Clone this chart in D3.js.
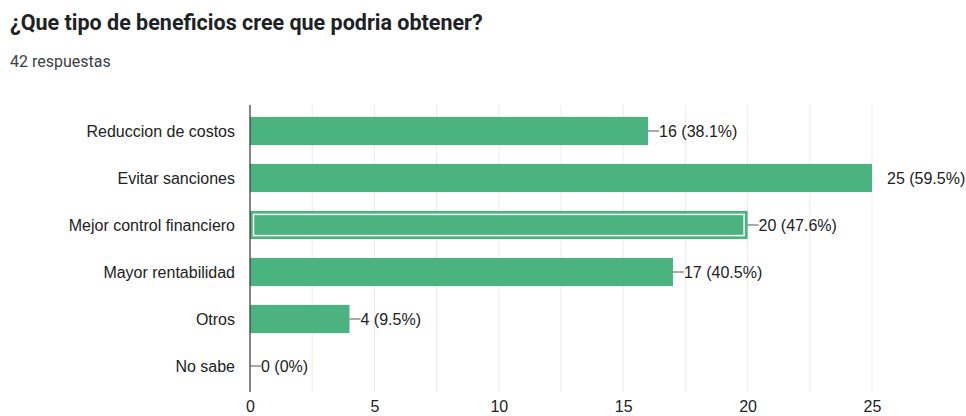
<!DOCTYPE html>
<html>
<head>
<meta charset="utf-8">
<script src="https://cdn.jsdelivr.net/npm/d3@7"></script>
<style>
  body { margin: 0; background: #fff; }
  .title { font: bold 21.5px Roboto, sans-serif; fill: #202124; }
  .subtitle { font: 16px Roboto, sans-serif; fill: #3c4043; }
  .axis text, .cat-label, .val-label { font: 16px "Liberation Sans", Arial, sans-serif; fill: #222; }
</style>
</head>
<body>
<div id="chart"></div>
<script>
const categories = [
  'Reduccion de costos',
  'Evitar sanciones',
  'Mejor control financiero',
  'Mayor rentabilidad',
  'Otros',
  'No sabe',
];
const counts = [16, 25, 20, 17, 4, 0];
const totalResponses = 42;
const xTicks = [0, 5, 10, 15, 20, 25];
const gridTicks = [2.5, 5, 7.5, 10, 12.5, 15, 17.5, 20, 22.5, 25];
const highlighted = 'Mejor control financiero';

const data = categories.map((c, i) => ({ name: c, value: counts[i] }));

const width = 966;
const height = 416;
const margin = { left: 250, right: 94, top: 105, bottom: 24 };
const barColor = '#4bb37f';

const svg = d3.select('#chart').append('svg')
  .attr('width', width)
  .attr('height', height);

svg.append('text')
  .attr('class', 'title')
  .attr('x', 10)
  .attr('y', 30)
  .text('¿Que tipo de beneficios cree que podria obtener?');

svg.append('text')
  .attr('class', 'subtitle')
  .attr('x', 10)
  .attr('y', 67)
  .text(`${totalResponses} respuestas`);

const x = d3.scaleLinear()
  .domain([0, 25])
  .range([margin.left, width - margin.right]);

const y = d3.scaleBand()
  .domain(categories)
  .range([107.5, 389.5])
  .paddingInner(0.4)
  .paddingOuter(0.2);

// gridlines
svg.append('g')
  .attr('class', 'grid')
  .selectAll('line')
  .data(gridTicks)
  .join('line')
  .attr('x1', (d) => x(d))
  .attr('x2', (d) => x(d))
  .attr('y1', margin.top)
  .attr('y2', height - margin.bottom)
  .attr('stroke', '#ebebeb')
  .attr('stroke-width', 1);

// x axis labels
const xAxis = d3.axisBottom(x)
  .tickValues(xTicks)
  .tickSize(0)
  .tickPadding(9);

svg.append('g')
  .attr('class', 'axis')
  .attr('transform', `translate(0, ${height - margin.bottom})`)
  .call(xAxis)
  .call((g) => g.select('.domain').remove());

// bars
svg.append('g')
  .selectAll('rect')
  .data(data)
  .join('rect')
  .attr('x', x(0))
  .attr('y', (d) => y(d.name))
  .attr('width', (d) => x(d.value) - x(0))
  .attr('height', y.bandwidth())
  .attr('fill', barColor);

// hovered bar outline
const hi = data.find((d) => d.name === highlighted);
svg.append('rect')
  .attr('x', x(0) + 3.5)
  .attr('y', y(hi.name) + 3.5)
  .attr('width', x(hi.value) - x(0) - 7)
  .attr('height', y.bandwidth() - 7)
  .attr('fill', 'none')
  .attr('stroke', '#fff')
  .attr('stroke-width', 1.5);

// zero axis line
svg.append('line')
  .attr('x1', x(0))
  .attr('x2', x(0))
  .attr('y1', margin.top)
  .attr('y2', height - margin.bottom)
  .attr('stroke', '#333')
  .attr('stroke-width', 1.2);

// category labels
svg.append('g')
  .selectAll('text')
  .data(data)
  .join('text')
  .attr('class', 'cat-label')
  .attr('x', x(0) - 15)
  .attr('y', (d) => y(d.name) + y.bandwidth() / 2)
  .attr('dy', '0.35em')
  .attr('text-anchor', 'end')
  .text((d) => d.name);

// value labels with leader lines
const pct = (v) => {
  const p = (v / totalResponses) * 100;
  return p === 0 ? '0%' : `${d3.format('.1f')(p)}%`;
};

const maxVal = d3.max(counts);
const labels = svg.append('g')
  .selectAll('g')
  .data(data)
  .join('g')
  .attr('transform', (d) => `translate(${x(d.value)}, ${y(d.name) + y.bandwidth() / 2})`);

labels.filter((d) => d.value !== maxVal)
  .append('line')
  .attr('x1', 0)
  .attr('x2', 11)
  .attr('stroke', '#555')
  .attr('stroke-width', 1);

labels.append('text')
  .attr('class', 'val-label')
  .attr('x', (d) => (d.value === maxVal ? 15 : 11))
  .attr('dy', '0.35em')
  .text((d) => `${d.value} (${pct(d.value)})`);
</script>
</body>
</html>
